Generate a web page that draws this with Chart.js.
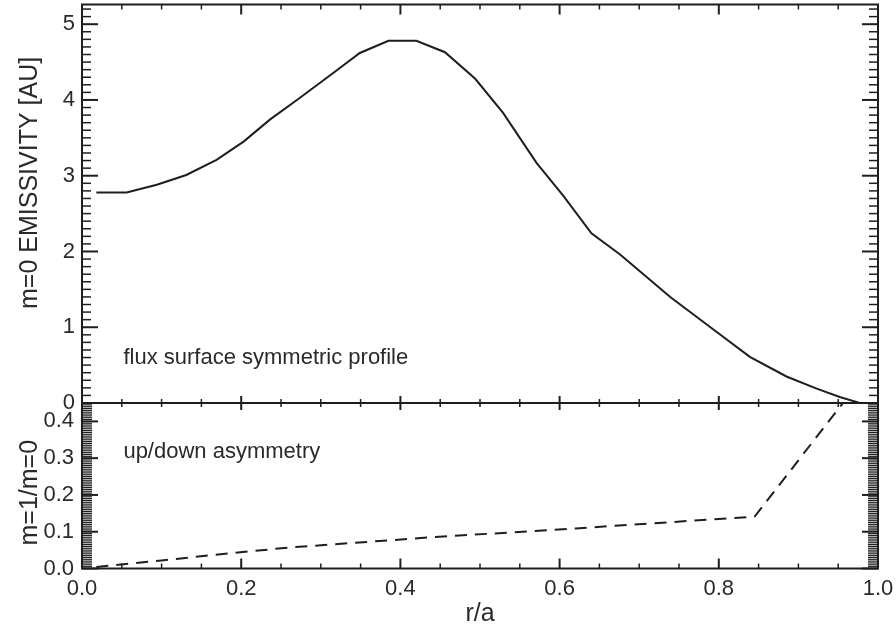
<!DOCTYPE html>
<html>
<head>
<meta charset="utf-8">
<script src="https://cdn.jsdelivr.net/npm/chart.js@4.4.0/dist/chart.umd.min.js"></script>
<style>
  html, body { margin: 0; padding: 0; background: #fff; }
  #wrap { position: relative; width: 896px; height: 629px; }
  #wrap canvas { position: absolute; left: 0; top: 0; }
</style>
</head>
<body>
<div id="wrap">
  <canvas id="top-chart" width="896" height="629"></canvas>
  <canvas id="bottom-chart" width="896" height="629"></canvas>
</div>
<script>
// m=0 emissivity profile (top panel)
const emisR   = [0.018, 0.056, 0.094, 0.131, 0.169, 0.203, 0.236, 0.270, 0.316, 0.349, 0.385, 0.420, 0.456,
                 0.494, 0.529, 0.571, 0.605, 0.640, 0.676, 0.739, 0.797, 0.839, 0.885, 0.923, 0.952, 0.977];
const emisVal = [2.78, 2.78, 2.88, 3.01, 3.21, 3.45, 3.74, 4.00, 4.36, 4.62, 4.78, 4.78, 4.63,
                 4.28, 3.83, 3.17, 2.73, 2.24, 1.96, 1.40, 0.94, 0.61, 0.35, 0.19, 0.08, 0.00];

// m=1/m=0 up/down asymmetry (bottom panel)
const asymR   = [0.018, 0.100, 0.180, 0.260, 0.440, 0.620, 0.845, 0.956];
const asymVal = [0.004, 0.022, 0.040, 0.057, 0.085, 0.109, 0.141, 0.450];

// axis ranges and tick labels
const xRange = [0, 1];
const topRange = [0, 5.26];
const bottomRange = [0, 0.45];
const xTickLabels = ['0.0', '0.2', '0.4', '0.6', '0.8', '1.0'];
const topTickLabels = ['0', '1', '2', '3', '4', '5'];
const bottomTickLabels = ['0.0', '0.1', '0.2', '0.3', '0.4'];

const INK = '#1e1e1e';
const FONT = '"Liberation Sans", Arial, Helvetica, sans-serif';
Chart.defaults.font.family = FONT;
Chart.defaults.font.size = 22;
Chart.defaults.color = '#2a2a2a';

function toPoints(xs, ys) {
    return xs.map((x, i) => ({ x: x, y: ys[i] }));
}

// frame box, inward ticks on all four sides, and the panel note
const framePlugin = {
    id: 'frame',
    afterDatasetsDraw(chart, args, o) {
        const ctx = chart.ctx;
        const a = chart.chartArea;
        const x = chart.scales.x;
        const y = chart.scales.y;

        function steps(min, max, step) {
            const out = [];
            for (let i = Math.ceil(min / step - 1e-6); i * step <= max + 1e-9; i++) out.push(i * step);
            return out;
        }
        function isMajor(v, step) {
            return Math.abs(v / step - Math.round(v / step)) < 1e-6;
        }
        function line(x1, y1, x2, y2, w) {
            ctx.lineWidth = w;
            ctx.beginPath();
            ctx.moveTo(x1, y1);
            ctx.lineTo(x2, y2);
            ctx.stroke();
        }

        ctx.save();
        ctx.strokeStyle = INK;

        steps(y.min, y.max, o.yMinor).forEach(v => {
            const major = isMajor(v, o.yMajor);
            const len = major ? o.yLen[0] : o.yLen[1];
            const w = major ? 2 : o.yMinorWidth;
            const py = y.getPixelForValue(v);
            line(a.left, py, a.left + len, py, w);
            line(a.right, py, a.right - len, py, w);
        });

        steps(xRange[0], xRange[1], 0.05).forEach(v => {
            const major = isMajor(v, 0.2);
            const px = x.getPixelForValue(v);
            line(px, a.top, px, a.top + (major ? o.topLen[0] : o.topLen[1]), major ? 2 : 1.5);
            line(px, a.bottom, px, a.bottom - (major ? o.bottomLen[0] : o.bottomLen[1]), major ? 2 : 1.5);
        });

        ctx.lineWidth = 2;
        ctx.strokeRect(a.left, a.top, a.right - a.left, a.bottom - a.top);

        ctx.fillStyle = '#2a2a2a';
        ctx.font = '22px ' + FONT;
        ctx.textAlign = 'left';
        ctx.textBaseline = 'middle';
        ctx.fillText(o.note, x.getPixelForValue(o.noteAt[0]), y.getPixelForValue(o.noteAt[1]));
        ctx.restore();
    }
};

function leftAxisFit(scale) {
    scale.width = 82;
    scale.paddingTop = 0;
    scale.paddingBottom = 0;
}

// top panel
new Chart(document.getElementById('top-chart'), {
    type: 'line',
    data: {
        datasets: [{
            data: toPoints(emisR, emisVal),
            borderColor: INK,
            borderWidth: 2,
            pointRadius: 0,
            tension: 0,
            fill: false
        }]
    },
    options: {
        responsive: false,
        animation: false,
        layout: { padding: { top: 4.5, bottom: 226, left: 0, right: 18 } },
        plugins: {
            legend: { display: false },
            tooltip: { enabled: false },
            frame: {
                yMinor: 0.1, yMajor: 1, yLen: [16, 9], yMinorWidth: 1.5,
                topLen: [10, 5], bottomLen: [7, 4],
                note: 'flux surface symmetric profile', noteAt: [0.052, 0.59]
            }
        },
        scales: {
            x: { type: 'linear', min: xRange[0], max: xRange[1], display: false },
            y: {
                type: 'linear',
                min: topRange[0],
                max: topRange[1],
                afterFit: leftAxisFit,
                grid: { display: false, drawTicks: false },
                border: { display: false },
                ticks: {
                    stepSize: 1,
                    includeBounds: false,
                    padding: 7,
                    callback: (v) => topTickLabels[Math.round(v)]
                },
                title: {
                    display: true,
                    // leading spaces lift the visible title above the panel centre, as in the original
                    text: '      m=0 EMISSIVITY [AU]',
                    font: { size: 25 },
                    padding: { top: 15, bottom: 0 }
                }
            }
        }
    },
    plugins: [framePlugin]
});

// bottom panel
new Chart(document.getElementById('bottom-chart'), {
    type: 'line',
    data: {
        datasets: [{
            data: toPoints(asymR, asymVal),
            borderColor: INK,
            borderWidth: 2,
            borderDash: [12, 8],
            pointRadius: 0,
            tension: 0,
            fill: false
        }]
    },
    options: {
        responsive: false,
        animation: false,
        layout: { padding: { top: 403, bottom: 0, left: 0, right: 18 } },
        plugins: {
            legend: { display: false },
            tooltip: { enabled: false },
            frame: {
                yMinor: 0.005, yMajor: 0.1, yLen: [16, 10], yMinorWidth: 1.2,
                topLen: [7, 4], bottomLen: [10, 5],
                note: 'up/down asymmetry', noteAt: [0.052, 0.317]
            }
        },
        scales: {
            x: {
                type: 'linear',
                min: xRange[0],
                max: xRange[1],
                afterFit(scale) {
                    scale.height = 60.5;
                    scale.paddingLeft = 0;
                    scale.paddingRight = 0;
                },
                grid: { display: false, drawTicks: false },
                border: { display: false },
                ticks: {
                    stepSize: 0.2,
                    includeBounds: false,
                    maxRotation: 0,
                    autoSkip: false,
                    padding: 7,
                    callback: (v) => xTickLabels[Math.round(v / 0.2)]
                },
                title: { display: true, text: 'r/a', font: { size: 25 }, padding: { top: 0, bottom: 0 } }
            },
            y: {
                type: 'linear',
                min: bottomRange[0],
                max: bottomRange[1],
                afterFit: leftAxisFit,
                grid: { display: false, drawTicks: false },
                border: { display: false },
                ticks: {
                    stepSize: 0.1,
                    includeBounds: false,
                    autoSkip: false,
                    padding: 8,
                    callback: (v) => bottomTickLabels[Math.round(v / 0.1)]
                },
                title: {
                    display: true,
                    text: 'm=1/m=0  ',
                    font: { size: 25 },
                    padding: { top: 15, bottom: 0 }
                }
            }
        }
    },
    plugins: [framePlugin]
});
</script>
</body>
</html>
